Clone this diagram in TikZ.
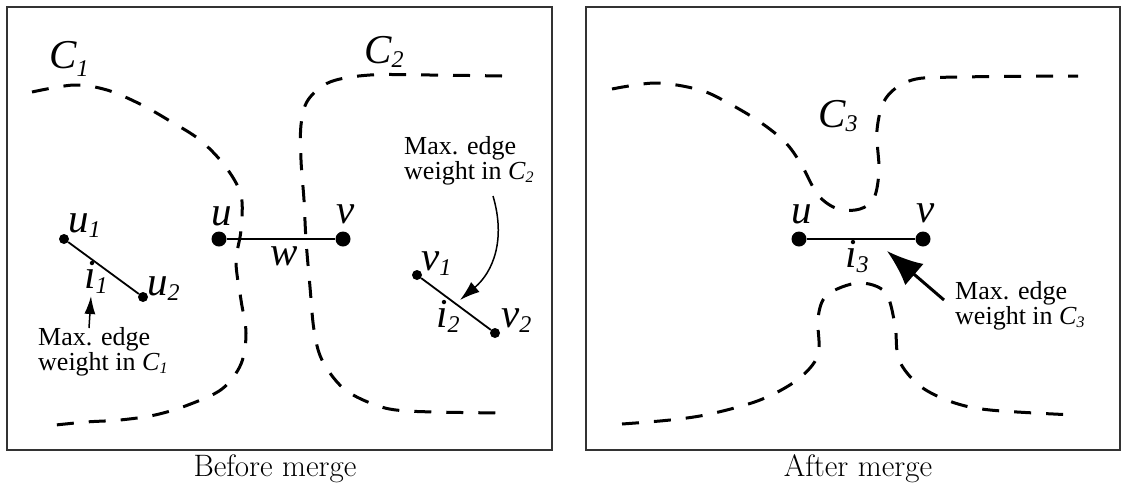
\documentclass[tikz,border=0pt]{standalone}
\usepackage{fontspec}
\newfontfamily\tnr{Liberation Serif}
\usetikzlibrary{arrows.meta}
\newcommand\lsub[2][5pt]{\raisebox{-#1}{\fontsize{24}{24}\selectfont #2}}
\newcommand\nsub[1]{\raisebox{-3pt}{\fontsize{16}{16}\selectfont #1}}
\begin{document}
\begin{tikzpicture}[x=1pt,y=-1pt,
 frame/.style={draw=black!80, line width=1.5pt},
 bound/.style={dash pattern=on 17pt off 15pt, line width=3pt},
 bigdot/.style={circle, fill=black, inner sep=0pt, minimum size=15pt},
 smalldot/.style={circle, fill=black, inner sep=0pt, minimum size=10pt},
 lbl/.style={font=\tnr\itshape\fontsize{41}{41}\selectfont, inner sep=0pt, anchor=base west},
 note/.style={font=\tnr\fontsize{26}{25}\selectfont, inner sep=0pt, anchor=north west, align=left},
 caption/.style={font=\fontsize{31}{31}\selectfont, inner sep=0pt, anchor=base},
 thinarrow/.style={line width=1.5pt, -{Latex[length=18pt,width=11pt]}},
]
\useasboundingbox (0,0) rectangle (1123,488);
\draw[frame] (7,7) rectangle (552,450);
\draw[frame] (586,7) rectangle (1120,450);

% ---------- left panel ----------
\draw[bound] plot[smooth, tension=0.55] coordinates {(32,92) (74,85) (107,90) (140,104) (170,121) (200,140) (225,166) (241,195) (241,230) (236,262) (241,300) (246,333) (241,364) (222,389) (188,405) (155,415) (120,420) (86,422) (46,426)};
\draw[bound] plot[smooth, tension=0.55] coordinates {(502,76) (430,75) (370,75) (330,82) (308,100) (301,125) (301,160) (304,200) (306,240) (310,287) (314,330) (322,360) (343,388) (373,404) (407,411) (504,413)};

\node[lbl] (c1) at (49,68) {C\lsub[8pt]{1}};
\node[lbl] (c2) at (364,63) {C\lsub[4pt]{2}};

\node[bigdot] (u) at (219,239) {};
\node[bigdot] (v) at (343,239) {};
\draw[line width=2.5pt] (u) -- (v);
\node[lbl] (ul) at (211,225) {u};
\node[lbl] (vl) at (336,223) {v};
\node[lbl] (wl) at (270,265) {w};

\node[smalldot] (u1) at (64,239) {};
\node[smalldot] (u2) at (143,297) {};
\draw[line width=1.8pt] (u1) -- (u2);
\node[lbl] (u1l) at (68,232) {u\lsub{1}};
\node[lbl] (u2l) at (147,295) {u\lsub{2}};
\node[lbl] (i1l) at (84,288) {i\lsub{1}};

\node[smalldot] (v1) at (417,275) {};
\node[smalldot] (v2) at (495,333) {};
\draw[line width=1.8pt] (v1) -- (v2);
\node[lbl] (v1l) at (421,270) {v\lsub{1}};
\node[lbl] (v2l) at (501,327) {v\lsub{2}};
\node[lbl] (i2l) at (436,327) {i\lsub{2}};

\node[note] (n1) at (38,327) {Max. edge\\weight in {\itshape C}\nsub{\itshape 1}};
\node[note] (n2) at (404,136) {Max. edge\\weight in {\itshape C}\nsub{\itshape 2}};
\coordinate (a1s) at (89,328);
\coordinate (a1t) at (91,296);
\draw[thinarrow] (a1s) -- (a1t);
\coordinate (a2s) at (493,196);
\coordinate (a2t) at (460,300);
\draw[line width=1.5pt, -{Latex[length=20pt,width=13pt]}] (a2s) .. controls (506,240) and (493,272) .. (a2t);

\node[caption] (cap1) at (275,476) {Before merge};

% ---------- right panel ----------
\draw[bound] plot[smooth, tension=0.55] coordinates {(612,89) (656,83) (700,90) (730,104) (760,122) (785,142) (801,164) (818,195) (838,209) (860,209) (874,198) (879,170) (877,130) (886,98) (912,80) (960,77) (1078,76)};
\draw[bound] plot[smooth, tension=0.55] coordinates {(622,424) (670,420) (710,414) (760,400) (797,380) (818,355) (818,318) (827,295) (858,283) (885,292) (895,325) (899,360) (920,386) (952,402) (990,410) (1074,415)};

\node[lbl] (c3) at (818,127) {C\lsub[4pt]{3}};
\node[bigdot] (ru) at (799,239) {};
\node[bigdot] (rv) at (923,239) {};
\draw[line width=2.5pt] (ru) -- (rv);
\node[lbl] (rul) at (791,223) {u};
\node[lbl] (rvl) at (916,222) {v};
\node[lbl] (i3l) at (845,267) {i\lsub{3}};

\node[note] (n3) at (955,281) {Max. edge\\weight in {\itshape C}\nsub{\itshape 3}};
\coordinate (a3s) at (944,300);
\coordinate (a3t) at (887,251);
\draw[line width=3pt, -{Latex[length=36pt,width=28pt]}] (a3s) -- (a3t);

\node[caption] (cap2) at (858,476) {After merge};
\end{tikzpicture}
\end{document}
